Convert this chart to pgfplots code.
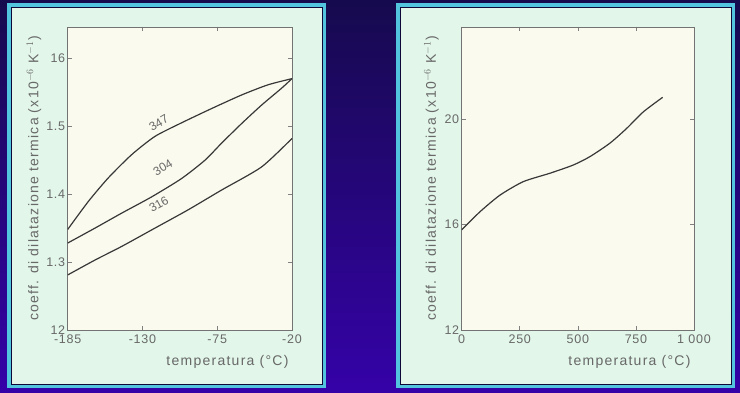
\documentclass[border=0pt]{standalone}
\usepackage{pgfplots}
\pgfplotsset{compat=1.18}
\usepackage{fontspec}
\setmainfont{Liberation Sans}
\newfontfamily\wide[LetterSpace=9]{Liberation Sans}
\newfontfamily\wideb[LetterSpace=6]{Liberation Sans}
\definecolor{bgtop}{HTML}{160A4E}
\definecolor{bgbot}{HTML}{3502A8}
\definecolor{panel}{HTML}{E2F6EA}
\definecolor{plotbg}{HTML}{FAFAEE}
\definecolor{cyanb}{HTML}{52C4DE}
\definecolor{txt}{HTML}{686868}
\definecolor{crv}{HTML}{383838}
\pgfplotsset{
  crvline/.style={draw=crv, line width=1.2pt, mark=none, smooth, tension=0.4},
  panelaxis/.style={
    scale only axis, anchor=south west,
    height=303pt,
    axis background/.style={fill=plotbg},
    axis line style={draw=gray!90!black, line width=0.8pt},
    tick style={draw=gray, line width=0.6pt},
    major tick length=4pt,
    tick align=inside,
    xtick pos=both, ytick pos=both,
    /pgf/number format/assume math mode=true,
    ticklabel style={font=\wideb\fontsize{12.5}{14}\selectfont, text=txt},
    xticklabel style={yshift=-1pt},
    yticklabel style={xshift=1pt},
    label style={font=\wide\fontsize{14}{16}\selectfont, text=txt},
    xlabel style={at={(axis description cs:1,-0.105)}, anchor=east},
  }
}
\begin{document}
\begin{tikzpicture}[x=1pt,y=1pt]
\shade[top color=bgtop, bottom color=bgbot] (0,0) rectangle (740,393);
% left panel
\fill[cyanb] (7,5) rectangle (326,390);
\fill[panel] (11,9) rectangle (322,386);
\draw[bgtop!70!black, line width=0.6pt] (11,9) rectangle (322,386);
% right panel
\fill[cyanb] (396,5) rectangle (735,390);
\fill[panel] (400,9) rectangle (731,386);
\draw[bgtop!70!black, line width=0.6pt] (400,9) rectangle (731,386);

\begin{axis}[panelaxis,
  at={(67.7pt,63pt)}, width=224.3pt,
  xmin=-185, xmax=-20, ymin=12, ymax=16.46,
  xtick={-185,-130,-75,-20}, xticklabels={-185,-130,-75,-20},
  ytick={12,13,14,15,16}, yticklabels={12,1.3,1.4,1.5,16},
  xlabel={temperatura (°C)},
  ylabel={coeff. di dilatazione termica (x10$^{-6}$ K$^{-1}$)},
  ylabel style={at={(axis description cs:-0.15,0.5)}, anchor=center},
]
\addplot[crvline] coordinates {(-185,13.48) (-169.9,13.89) (-155.1,14.24) (-138,14.58) (-120.8,14.85) (-101.2,15.05) (-79.1,15.26) (-57,15.46) (-37.5,15.61) (-20,15.70)};
\addplot[crvline] coordinates {(-185,13.28) (-164.9,13.50) (-145.3,13.72) (-123.2,13.96) (-101.2,14.23) (-84,14.50) (-71.8,14.75) (-57,15.04) (-42.4,15.31) (-27.6,15.56) (-20,15.70)};
\addplot[crvline] coordinates {(-185,12.81) (-164.9,13.03) (-145.3,13.23) (-120.8,13.50) (-96.3,13.77) (-71.8,14.06) (-42.4,14.40) (-20,14.82)};
\node[rotate=30, text=txt, font=\fontsize{12}{14}\selectfont] at (axis cs:-118,15.05) {347};
\node[rotate=31, text=txt, font=\fontsize{12}{14}\selectfont] at (axis cs:-115,14.39) {304};
\node[rotate=29, text=txt, font=\fontsize{12}{14}\selectfont] at (axis cs:-118,13.85) {316};
\end{axis}

\begin{axis}[panelaxis,
  at={(461.7pt,63pt)}, width=232.3pt,
  xmin=0, xmax=1000, ymin=12, ymax=23.5,
  xtick={0,250,500,750,1000}, xticklabels={0,250,500,750,1 000},
  ytick={12,16,20}, yticklabels={12,16,20},
  xlabel={temperatura (°C)},
  ylabel={coeff. di dilatazione termica (x10$^{-6}$ K$^{-1}$)},
  ylabel style={at={(axis description cs:-0.13,0.5)}, anchor=center},
]
\addplot[crvline] coordinates {(0,15.80) (79,16.49) (165,17.12) (265,17.63) (380,17.95) (480,18.26) (552,18.58) (638,19.09) (710,19.65) (782,20.28) (865,20.83)};
\end{axis}
\end{tikzpicture}
\end{document}
